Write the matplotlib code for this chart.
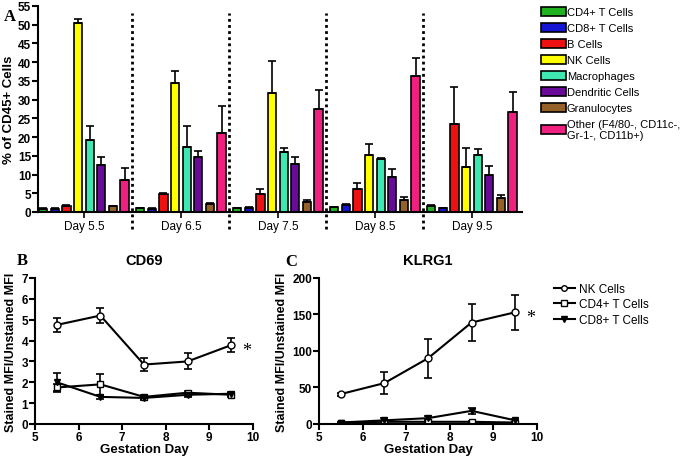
import numpy as np
import matplotlib.pyplot as plt
from matplotlib.patches import Patch
from matplotlib.lines import Line2D

plt.rcParams["font.family"] = ["Liberation Sans", "DejaVu Sans"]

# ---- panel A data ----
days = ["Day 5.5", "Day 6.5", "Day 7.5", "Day 8.5", "Day 9.5"]
cell_types = ["CD4+ T Cells", "CD8+ T Cells", "B Cells", "NK Cells", "Macrophages",
              "Dendritic Cells", "Granulocytes", "Other (F4/80-, CD11c-,\nGr-1-, CD11b+)"]
bar_colors = ["#1fb31f", "#1414d2", "#ee1111", "#ffff00", "#3fe8b0",
              "#6a0a9a", "#946228", "#f02080"]

# rows = cell types, columns = days
pct_mean = [
    [0.9, 1.0, 1.0, 1.25, 1.7],
    [0.9, 0.9, 1.1, 1.9, 1.0],
    [1.7, 4.8, 4.9, 6.2, 23.5],
    [50.5, 34.5, 31.8, 15.3, 12.1],
    [19.3, 17.3, 16.1, 14.2, 15.1],
    [12.5, 14.7, 12.9, 9.3, 10.0],
    [1.5, 2.2, 2.6, 3.3, 3.8],
    [8.6, 21.1, 27.5, 36.4, 26.8],
]
pct_err = [
    [0.1, 0.1, 0.1, 0.1, 0.1],
    [0.1, 0.1, 0.2, 0.1, 0.1],
    [0.2, 0.3, 1.2, 1.5, 9.9],
    [1.0, 3.0, 8.5, 2.8, 4.9],
    [3.7, 5.7, 1.1, 0.2, 1.7],
    [2.1, 1.6, 1.9, 2.3, 2.4],
    [0.2, 0.3, 0.6, 0.8, 0.6],
    [3.2, 7.3, 5.0, 4.6, 5.2],
]

# ---- panels B and C data ----
gest_day = [5.5, 6.5, 7.5, 8.5, 9.5]
line_labels = ["NK Cells", "CD4+ T Cells", "CD8+ T Cells"]

cd69_nk = [4.75, 5.2, 2.85, 3.0, 3.78]
cd69_nk_err = [0.35, 0.38, 0.3, 0.38, 0.35]
cd69_cd4 = [1.75, 1.9, 1.3, 1.5, 1.4]
cd69_cd4_err = [0.15, 0.5, 0.1, 0.1, 0.1]
cd69_cd8 = [2.0, 1.3, 1.25, 1.4, 1.45]
cd69_cd8_err = [0.45, 0.1, 0.08, 0.1, 0.1]

klrg1_nk = [41, 56, 90, 139, 153]
klrg1_nk_err = [2, 15, 27, 25, 24]
klrg1_cd4 = [2, 3, 3, 3, 2]
klrg1_cd4_err = [0.5, 1, 1, 1, 1]
klrg1_cd8 = [2, 5, 8, 18, 5]
klrg1_cd8_err = [1, 3, 3, 4, 2]

fig = plt.figure(figsize=(6.82, 4.6), dpi=100)

# ---------------- panel A ----------------
ax = fig.add_axes([0.0557, 0.537, 0.7097, 0.448])
group_x = np.arange(len(days))
step = 0.12
width = 0.085
for i, (name, col) in enumerate(zip(cell_types, bar_colors)):
    xs = group_x + 0.083 + i * step
    ax.bar(xs, pct_mean[i], width=width, color=col, edgecolor="black", linewidth=1.2,
           yerr=[np.zeros(len(days)), pct_err[i]], error_kw=dict(ecolor="black", elinewidth=1.2,
           capsize=3, capthick=1.2), zorder=2)

for s in range(1, len(days)):
    ax.plot([s, s], [-4.6, 53], color="black", linestyle=(0, (1, 1.2)), linewidth=2,
            clip_on=False, zorder=3)

ax.set_xlim(0.03, 5.02)
ax.set_ylim(0, 55)
ax.set_yticks(np.arange(0, 56, 5))
ax.set_xticks(group_x + 0.503)
ax.set_xticklabels(days)
ax.tick_params(axis="x", length=4, width=1.2, labelsize=8.5, pad=2)
ax.tick_params(axis="y", length=4, width=1.5, labelsize=8.5, pad=1)
for lbl in ax.get_yticklabels():
    lbl.set_fontweight("bold")
ax.spines["top"].set_visible(False)
ax.spines["right"].set_visible(False)
ax.spines["left"].set_linewidth(1.5)
ax.spines["bottom"].set_linewidth(1.5)
ax.set_ylabel("% of CD45+ Cells", fontsize=9.5, fontweight="bold", labelpad=2)

handles = [Patch(facecolor=c, edgecolor="black", linewidth=1.2) for c in bar_colors]
fig.legend(handles, cell_types, loc="upper left", bbox_to_anchor=(0.787, 0.993),
           frameon=False, fontsize=8, handlelength=2.2, handleheight=0.9,
           handletextpad=0.1, labelspacing=0.5, borderaxespad=0)

fig.text(0.005, 0.98, "A", family="Liberation Serif", fontweight="bold", fontsize=12,
         va="top")


def line_panel(ax, nk, nk_e, cd4, cd4_e, cd8, cd8_e, ymax, ystep, title):
    kw = dict(color="black", linewidth=1.5, capsize=3, elinewidth=1.2, capthick=1.2)
    ax.errorbar(gest_day, nk, yerr=nk_e, marker="o", markersize=5,
                markerfacecolor="white", markeredgecolor="black", **kw)
    ax.errorbar(gest_day, cd4, yerr=cd4_e, marker="s", markersize=5,
                markerfacecolor="white", markeredgecolor="black", **kw)
    ax.errorbar(gest_day, cd8, yerr=cd8_e, marker="v", markersize=5,
                markerfacecolor="black", markeredgecolor="black", **kw)
    ax.set_xlim(5, 10)
    ax.set_ylim(0, ymax)
    ax.set_xticks(range(5, 11))
    ax.set_yticks(np.arange(0, ymax + 0.1, ystep))
    ax.spines["top"].set_visible(False)
    ax.spines["right"].set_visible(False)
    ax.spines["left"].set_linewidth(1.5)
    ax.spines["bottom"].set_linewidth(1.5)
    ax.tick_params(length=4, width=1.5, labelsize=8.5, pad=1)
    for lbl in ax.get_yticklabels() + ax.get_xticklabels():
        lbl.set_fontweight("bold")
    ax.set_xlabel("Gestation Day", fontsize=9.5, fontweight="bold", labelpad=0)
    ax.set_ylabel("Stained MFI/Unstained MFI", fontsize=9, fontweight="bold", labelpad=3)
    ax.set_title(title, fontsize=10.5, fontweight="bold", pad=10)
    ax.annotate("*", (gest_day[-1], nk[-1]), xytext=(8, -4), textcoords="offset points",
                fontsize=13, family="Liberation Serif", va="center")


# ---------------- panel B ----------------
axb = fig.add_axes([0.0513, 0.0761, 0.3196, 0.3174])
line_panel(axb, cd69_nk, cd69_nk_err, cd69_cd4, cd69_cd4_err, cd69_cd8, cd69_cd8_err,
           7, 1, "CD69")
fig.text(0.025, 0.433, "B", family="Liberation Serif", fontweight="bold", fontsize=12,
         va="center")

# ---------------- panel C ----------------
axc = fig.add_axes([0.4677, 0.0761, 0.3196, 0.3174])
line_panel(axc, klrg1_nk, klrg1_nk_err, klrg1_cd4, klrg1_cd4_err, klrg1_cd8, klrg1_cd8_err,
           200, 50, "KLRG1")
fig.text(0.418, 0.43, "C", family="Liberation Serif", fontweight="bold", fontsize=12,
         va="center")

line_handles = [
    Line2D([], [], color="black", lw=1.5, marker="o", ms=4, mfc="white", mec="black"),
    Line2D([], [], color="black", lw=1.5, marker="s", ms=4, mfc="white", mec="black"),
    Line2D([], [], color="black", lw=1.5, marker="v", ms=5, mfc="black", mec="black"),
]
fig.legend(line_handles, line_labels, loc="upper left", bbox_to_anchor=(0.805, 0.393),
           frameon=False, fontsize=8.5, handlelength=1.8, handletextpad=0.3,
           labelspacing=0.3, borderaxespad=0)

fig.savefig("out.png", dpi=100)
